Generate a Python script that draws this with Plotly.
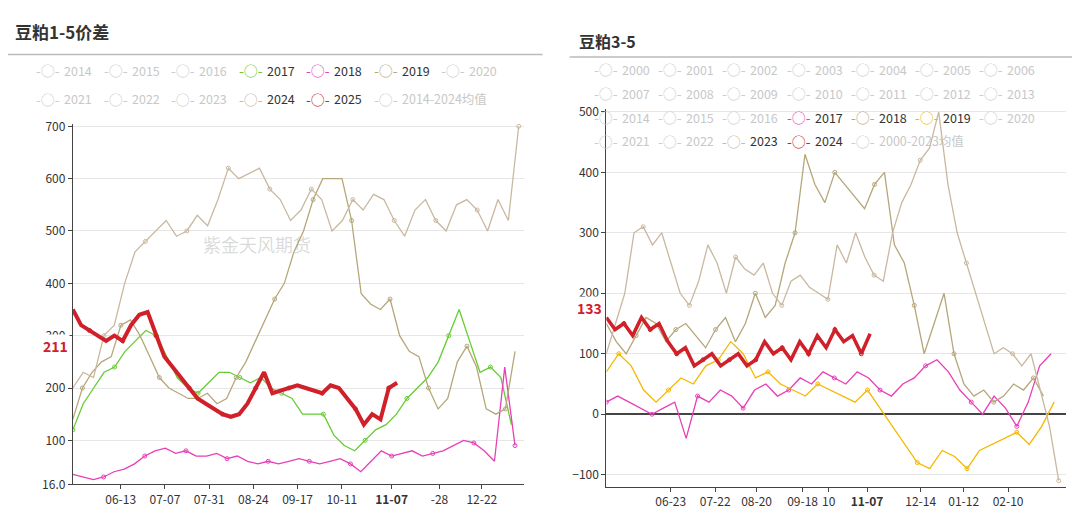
import numpy as np
import plotly.graph_objects as go

# ---- left panel: 豆粕1-5价差 (x = days from mid May)
left_ticks = [26, 50, 74, 98, 122, 146, 173, 199, 222]
left_ticktext = ["06-13", "07-07", "07-31", "08-24", "09-17", "10-11", "<b>11-07</b>", "-28", "12-22"]
left_legend = ["2014", "2015", "2016", "2017", "2018", "2019", "2020",
               "2021", "2022", "2023", "2024", "2025", "2014-2024均值"]

l2025 = [350, 320, 310, 300, 290, 300, 290, 320, 340, 345, 300, 260, 240, 220, 200, 180, 170, 160,
         150, 145, 150, 170, 200, 230, 190, 195, 200, 205, 200, 195, 190, 205, 200, 180, 160, 130,
         150, 140, 200, 210]
l2024 = [200, 230, 220, 300, 320, 400, 460, 480, 500, 520, 490, 500, 530, 510, 560, 620, 600, 610,
         620, 580, 560, 520, 540, 580, 560, 500, 520, 560, 540, 570, 560, 520, 490, 540, 560, 520,
         500, 550, 560, 540, 500, 560, 520, 700]
l2019 = [140, 200, 230, 250, 260, 320, 330, 300, 260, 220, 200, 190, 180, 180, 190, 170, 180, 220,
         250, 290, 330, 370, 400, 460, 500, 560, 600, 600, 600, 520, 380, 360, 350, 370, 300, 270,
         260, 200, 160, 180, 250, 280, 240, 160, 150, 160, 270]
l2017 = [120, 170, 200, 230, 240, 270, 290, 310, 300, 260, 220, 200, 190, 210, 230, 230, 220, 210,
         220, 200, 190, 180, 150, 150, 150, 110, 90, 80, 100, 120, 130, 150, 180, 200, 220, 250,
         300, 350, 290, 230, 240, 220, 130]
l2018 = [35, 30, 25, 30, 40, 45, 55, 70, 80, 85, 75, 80, 70, 70, 75, 65, 70, 60, 55, 60, 55, 60,
         65, 60, 55, 60, 65, 55, 40, 60, 80, 70, 75, 80, 70, 75, 80, 90, 100, 95, 80, 60, 240, 90]

# ---- right panel: 豆粕3-5
right_ticks = [42, 71, 98, 128, 145, 170, 205, 233, 262]
right_ticktext = ["06-23", "07-22", "08-20", "09-18", "10", "<b>11-07</b>", "12-14", "01-12", "02-10"]
right_legend = ["2000", "2001", "2002", "2003", "2004", "2005", "2006",
                "2007", "2008", "2009", "2010", "2011", "2012", "2013",
                "2014", "2015", "2016", "2017", "2018", "2019", "2020",
                "2021", "2022", "2023", "2024", "2000-2023均值"]

r2024 = [160, 140, 150, 130, 160, 140, 150, 120, 100, 110, 80, 90, 100, 80, 90, 100, 80, 90, 120,
         100, 110, 90, 120, 100, 130, 110, 140, 120, 130, 100, 133]
r2023 = [100, 150, 200, 300, 310, 280, 300, 250, 200, 180, 220, 280, 250, 200, 260, 240, 230, 250,
         200, 180, 220, 230, 210, 200, 190, 280, 250, 300, 260, 230, 220, 300, 350, 380, 420, 440,
         500, 380, 300, 250, 200, 150, 100, 110, 100, 80, 100, 40, -20, -110]
r2018 = [150, 120, 100, 130, 160, 150, 120, 140, 150, 130, 110, 140, 160, 120, 150, 200, 160, 180,
         250, 300, 430, 380, 350, 400, 380, 360, 340, 380, 400, 280, 250, 180, 100, 150, 200, 100,
         50, 30, 40, 20, 30, 50, 40, 60, 30]
r2019 = [70, 100, 80, 40, 20, 40, 60, 50, 80, 90, 120, 100, 60, 70, 50, 40, 30, 50, 40, 30, 20, 40,
         10, -20, -50, -80, -90, -60, -70, -90, -60, -50, -40, -30, -50, -20, 20]
r2017 = [20, 30, 20, 10, 0, 10, 20, -40, 30, 20, 40, 30, 10, 40, 50, 30, 40, 60, 50, 70, 60, 50,
         70, 60, 40, 30, 50, 60, 80, 90, 70, 40, 20, 0, 30, 10, -20, 20, 80, 100]

GREEN, PINK, OLIVE, TAN, RED, YELLOW = "#66cc33", "#e83fb8", "#b5a77a", "#c9b8a0", "#d0202a", "#f5b800"
left_colors = {"2017": GREEN, "2018": PINK, "2019": OLIVE, "2024": TAN, "2025": RED}
right_colors = {"2017": PINK, "2018": OLIVE, "2019": YELLOW, "2023": TAN, "2024": RED}

fig = go.Figure()


def add(vals, end, color, width, axis):
    x = np.linspace(0, end, len(vals))
    fig.add_trace(go.Scatter(x=x, y=vals, mode="lines+markers", showlegend=False,
                             line=dict(color=color, width=width),
                             marker=dict(symbol="circle-open", size=4, color=color, maxdisplayed=12),
                             xaxis="x" + axis, yaxis="y" + axis))


add(l2017, 238, GREEN, 1.3, "")
add(l2018, 240, PINK, 1.3, "")
add(l2019, 240, OLIVE, 1.3, "")
add(l2024, 242, TAN, 1.3, "")
add(l2025, 176, RED, 4, "")
add(r2017, 290, PINK, 1.3, "2")
add(r2018, 285, OLIVE, 1.3, "2")
add(r2019, 292, YELLOW, 1.3, "2")
add(r2023, 295, TAN, 1.3, "2")
add(r2024, 172, RED, 3.5, "2")

W, H = 1080, 508
ann = []


def legend(names, colors, x0, y0, dx, dy):
    for i, n in enumerate(names):
        px, py = x0 + (i % 7) * dx, y0 + (i // 7) * dy
        on = n in colors
        c = colors.get(n, "#cccccc")
        ann.append(dict(text="-○-", xref="paper", yref="paper", x=px / W, y=1 - py / H,
                        xanchor="center", yanchor="middle", showarrow=False,
                        font=dict(size=14, color=c)))
        ann.append(dict(text=n, xref="paper", yref="paper", x=(px + 14) / W, y=1 - py / H,
                        xanchor="left", yanchor="middle", showarrow=False,
                        font=dict(size=12.5, color="#333" if on else "#c8c8c8")))


legend(left_legend, left_colors, 40, 57, 67.5, 29)
legend(right_legend, right_colors, 598, 56, 64.2, 24.5)

axis_common = dict(showline=True, linecolor="#444", ticks="outside",
                   ticklen=4, tickfont=dict(size=12, color="#333"))

fig.update_layout(
    width=W, height=H, margin=dict(l=0, r=0, t=0, b=0),
    plot_bgcolor="white", paper_bgcolor="white",
    font=dict(family="Noto Sans CJK SC"),
    xaxis=dict(domain=[0.06, 0.478], range=[0, 245], tickvals=left_ticks, ticktext=left_ticktext,
               showgrid=False, **axis_common),
    yaxis=dict(domain=[0.05, 0.78], range=[16, 705], tickvals=[16, 100, 200, 300, 400, 500, 600, 700],
               ticktext=["16.0", "100", "200", "300", "400", "500", "600", "700"],
               gridcolor="#e6e6e6", showgrid=True, **axis_common),
    xaxis2=dict(domain=[0.554, 0.98], range=[0, 300], tickvals=right_ticks, ticktext=right_ticktext,
                anchor="y2", showgrid=False, **axis_common),
    yaxis2=dict(domain=[0.045, 0.81], range=[-120, 505], tickvals=[-100, 0, 100, 200, 300, 400, 500],
                anchor="x2", gridcolor="#e6e6e6", zeroline=True, zerolinecolor="#444",
                showgrid=True, **axis_common),
    shapes=[
        dict(type="line", xref="paper", yref="paper", x0=0, x1=0.495, y0=0.92, y1=0.92,
             line=dict(color="#bbbbbb", width=1.5)),
        dict(type="line", xref="paper", yref="paper", x0=0.52, x1=1, y0=0.915, y1=0.915,
             line=dict(color="#bbbbbb", width=1.5)),
    ],
    annotations=ann + [
        dict(text="<b>豆粕1-5价差</b>", xref="paper", yref="paper", x=0.005, y=0.995, xanchor="left",
             yanchor="top", showarrow=False, font=dict(size=17, color="#333", family="Noto Sans CJK SC")),
        dict(text="<b>豆粕3-5</b>", xref="paper", yref="paper", x=0.527, y=0.975, xanchor="left",
             yanchor="top", showarrow=False, font=dict(size=16, color="#333", family="Noto Sans CJK SC")),
        dict(text="<b>211</b>", xref="paper", yref="y", x=0.057, y=280, xanchor="right", showarrow=False,
             bgcolor="white", font=dict(size=14, color=RED)),
        dict(text="<b>133</b>", xref="paper", yref="y2", x=0.552, y=175, xanchor="right", showarrow=False,
             bgcolor="white", font=dict(size=14, color=RED)),
        dict(text="紫金天风期货", xref="x", yref="y", x=100, y=475, showarrow=False,
             font=dict(size=18, color="rgba(150,150,150,0.35)")),
    ],
)

fig.write_html("out.html")
